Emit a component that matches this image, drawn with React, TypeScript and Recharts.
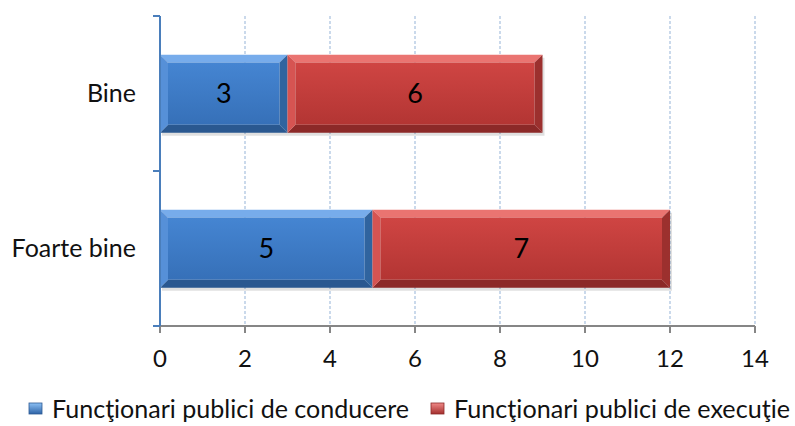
import React from 'react';
import { BarChart, Bar, XAxis, YAxis, CartesianGrid, Legend, LabelList } from 'recharts';

const categories = ['Bine', 'Foarte bine'];
const conducere = [3, 5];
const executie = [6, 7];
const xTicks = [0, 2, 4, 6, 8, 10, 12, 14];
const seriesNames = ['Funcţionari publici de conducere', 'Funcţionari publici de execuţie'];

const data = categories.map((name, i) => ({ name, conducere: conducere[i], executie: executie[i] }));

const FONT = 'Lato, "Open Sans", sans-serif';

// shades for the bevelled bars: top light, bottom dark, sides
const palette: Record<string, { light: string; dark: string; side: string; sideDark: string }> = {
  blue: { light: '#77aceb', dark: '#2a5890', side: '#5690d8', sideDark: '#30649f' },
  red: { light: '#ea7471', dark: '#8c2928', side: '#d65452', sideDark: '#9c302e' },
};

const BevelBar = (props: any) => {
  const { x, y, width, height, tone } = props;
  if (!width || !height) return null;
  const c = palette[tone];
  const b = 8;
  return (
    <g>
      <rect x={x + 2} y={y + 3} width={width} height={height} fill="#000" opacity={0.12} />
      <polygon points={`${x},${y} ${x + width},${y} ${x + width - b},${y + b} ${x + b},${y + b}`} fill={c.light} />
      <polygon points={`${x},${y + height} ${x + width},${y + height} ${x + width - b},${y + height - b} ${x + b},${y + height - b}`} fill={c.dark} />
      <polygon points={`${x},${y} ${x + b},${y + b} ${x + b},${y + height - b} ${x},${y + height}`} fill={c.side} />
      <polygon points={`${x + width},${y} ${x + width - b},${y + b} ${x + width - b},${y + height - b} ${x + width},${y + height}`} fill={c.sideDark} />
      <rect x={x + b} y={y + b} width={Math.max(0, width - 2 * b)} height={Math.max(0, height - 2 * b)} fill={`url(#grad-${tone})`} />
    </g>
  );
};

const CategoryTick = (props: any) => {
  const { x, y, payload } = props;
  const half = payload && payload.offset ? payload.offset : 0;
  return (
    <g>
      <text x={x - 24} y={y} dy="0.35em" textAnchor="end" fontSize={25} fontFamily={FONT} fill="#111">
        {payload.value}
      </text>
      <line x1={x - 7} x2={x} y1={y - half} y2={y - half} stroke="#4a7ebb" strokeWidth={2} />
      <line x1={x - 7} x2={x} y1={y + half} y2={y + half} stroke="#4a7ebb" strokeWidth={2} />
    </g>
  );
};

const LegendContent = () => (
  <svg width={795} height={38}>
    <defs>
      <linearGradient id="lg-blue" x1="0" y1="0" x2="0" y2="1">
        <stop offset="0" stopColor="#8cc0f5" />
        <stop offset="1" stopColor="#2d63a6" />
      </linearGradient>
      <linearGradient id="lg-red" x1="0" y1="0" x2="0" y2="1">
        <stop offset="0" stopColor="#f08a88" />
        <stop offset="1" stopColor="#a32e2d" />
      </linearGradient>
    </defs>
    <rect x={29} y={15} width={13} height={11} fill="url(#lg-blue)" stroke="#2d5a94" strokeWidth={0.8} />
    <text x={52} y={30} fontSize={25} fontFamily={FONT} fill="#111" textLength={357} lengthAdjust="spacingAndGlyphs">
      {seriesNames[0]}
    </text>
    <rect x={431} y={15} width={13} height={11} fill="url(#lg-red)" stroke="#8c2928" strokeWidth={0.8} />
    <text x={454} y={30} fontSize={25} fontFamily={FONT} fill="#111" textLength={336} lengthAdjust="spacingAndGlyphs">
      {seriesNames[1]}
    </text>
  </svg>
);

export default function App() {
  return (
    <div style={{ position: 'absolute', left: 0, top: 0, width: 795, height: 426, background: '#fff' }}>
      <BarChart
        width={795}
        height={426}
        data={data}
        layout="vertical"
        barCategoryGap="25%"
        margin={{ top: 16, right: 40, bottom: 22, left: 0 }}
      >
        <defs>
          <linearGradient id="grad-blue" x1="0" y1="0" x2="0" y2="1">
            <stop offset="0" stopColor="#4585d2" />
            <stop offset="1" stopColor="#3670b8" />
          </linearGradient>
          <linearGradient id="grad-red" x1="0" y1="0" x2="0" y2="1">
            <stop offset="0" stopColor="#cf4543" />
            <stop offset="1" stopColor="#b33533" />
          </linearGradient>
        </defs>
        <CartesianGrid horizontal={false} stroke="#95b3d7" strokeDasharray="3 2" />
        <XAxis
          type="number"
          domain={[0, 14]}
          ticks={xTicks}
          interval={0}
          height={40}
          axisLine={{ stroke: '#868686', strokeWidth: 2 }}
          tickLine={{ stroke: '#868686', strokeWidth: 2 }}
          tickSize={7}
          tickMargin={17}
          tick={{ fontSize: 24, fontFamily: FONT, fill: '#111' }}
        />
        <YAxis
          type="category"
          dataKey="name"
          width={160}
          axisLine={{ stroke: '#4a7ebb', strokeWidth: 2 }}
          tickLine={false}
          tickSize={0}
          tickMargin={0}
          tick={<CategoryTick />}
        />
        <Legend verticalAlign="bottom" height={30} content={<LegendContent />} wrapperStyle={{ position: 'absolute', left: 0, top: 388, width: 795, height: 38 }} />
        <Bar dataKey="conducere" name={seriesNames[0]} stackId="a" isAnimationActive={false} shape={<BevelBar tone="blue" />}>
          <LabelList dataKey="conducere" position="center" fontSize={27} fontFamily={FONT} fill="#000" />
        </Bar>
        <Bar dataKey="executie" name={seriesNames[1]} stackId="a" isAnimationActive={false} shape={<BevelBar tone="red" />}>
          <LabelList dataKey="executie" position="center" fontSize={27} fontFamily={FONT} fill="#000" />
        </Bar>
      </BarChart>
    </div>
  );
}
